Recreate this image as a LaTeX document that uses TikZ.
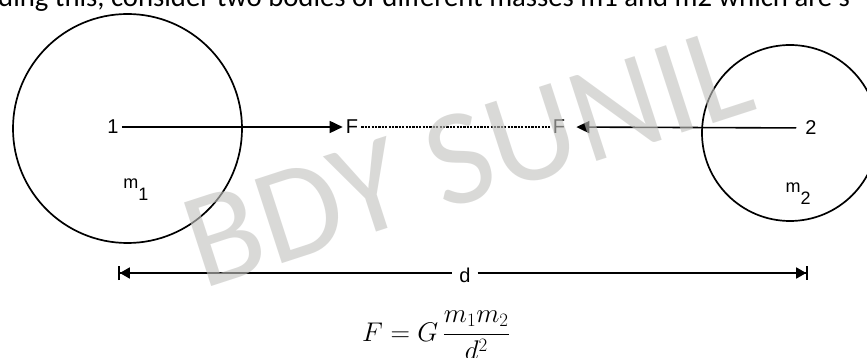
\RequirePackage{fix-cm}
\documentclass[tikz,border=0pt]{standalone}
\usepackage{fontspec}
\usepackage{amsmath}
\newfontfamily\labfont{Liberation Sans}
\newfontfamily\wmfont{Carlito}
\usetikzlibrary{arrows.meta}
\definecolor{wmgray}{RGB}{195,195,192}
\begin{document}
\begin{tikzpicture}[x=1pt,y=-1pt,
  body/.style={draw, circle, line width=1.7pt, inner sep=0pt},
  lab/.style={font=\labfont\fontsize{20}{20}\selectfont, inner sep=3pt},
  mlab/.style={font=\labfont\fontsize{18}{18}\selectfont, inner sep=0pt},
  force/.style={line width=1.6pt, -{Triangle[length=13pt,width=12pt]}},
  dotline/.style={line width=1.3pt, dash pattern=on 2.2pt off 1.2pt},
  dimL/.style={line width=1.6pt, {Bar[width=14pt,line width=1.8pt]Triangle[length=10pt,width=11pt,sep=0pt]}-},
  dimR/.style={line width=1.6pt, -{Triangle[length=10pt,width=11pt,sep=0pt]Bar[width=14pt,line width=1.8pt]}},
  wm/.style={font=\wmfont\fontsize{137}{137}\selectfont, text=wmgray, opacity=0.62, inner sep=0pt}
]
\begin{scope}
\clip (0,0) rectangle (867,358);
\fill[white] (0,0) rectangle (867,358);

% cut-off line of text at the top
\node[anchor=base west, inner sep=0pt] (toptext) at (-2,6.5)
  {\wmfont\fontsize{28.7}{30}\selectfont ding this, consider two bodies of different masses m1 and m2 which are s};

% bodies
\node[body, minimum size=229pt] (c1) at (127.5,128.5) {};
\node[body, minimum size=176pt] (c2) at (790,133) {};

% labels
\node[lab] (n1) at (113,127) {1};
\node[lab] (f1) at (352,127) {F};
\node[lab] (f2) at (559,127) {F};
\node[lab] (n2) at (811,128) {2};
\node[mlab] (m1) at (136,190) {m\raisebox{-0.68em}{1}};
\node[mlab] (m2) at (798,193.5) {m\raisebox{-0.68em}{2}};

% forces
\draw[force] (n1) -- (f1);
\draw[dotline] (f1) -- (f2);
\draw[force, shorten <=6pt, shorten >=8pt] (n2) -- (f2);

% distance
\coordinate (dl) at (118,273);
\coordinate (dr) at (808,273);
\node[lab, inner sep=0pt, minimum width=25pt] (d) at (465,275) {d};
\draw[dimL] (dl) -- (dl -| d.west);
\draw[dimR] (dr -| d.east) -- (dr);

% formula
\node[anchor=base, inner sep=0pt] (eq) at (436,341)
  {\fontsize{27}{30}\selectfont $F = G\,\dfrac{m_1m_2}{d^2}$};

% watermark
\node[wm, rotate=18] (wmk) at (467,157) {BDY SUNIL};
\end{scope}
\pgfresetboundingbox
\useasboundingbox (0,0) rectangle (867,358);
\end{tikzpicture}
\end{document}
